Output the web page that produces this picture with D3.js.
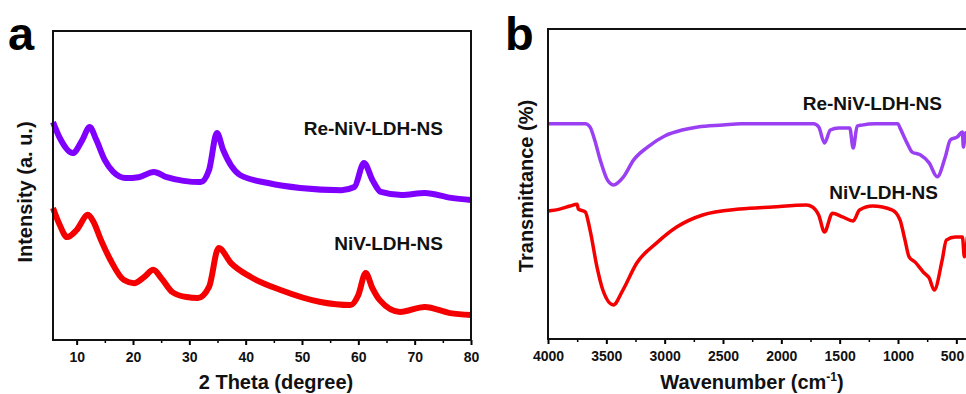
<!DOCTYPE html>
<html>
<head>
<meta charset="utf-8">
<script src="https://cdn.jsdelivr.net/npm/d3@7"></script>
<style>
  body { margin: 0; background: #fff; }
  svg { display: block; font-family: "Liberation Sans", Arial, sans-serif; font-weight: bold; }
</style>
</head>
<body>
<svg></svg>
<script>
"use strict";

// XRD (panel a): 2 theta (degree) and intensity (a. u.)
const xrdReTheta = [5.8, 7, 9.3, 11, 12.3, 13.5, 15, 16.5, 18.7, 21, 23.7, 26, 29, 32, 33.5, 34.9, 36, 39, 44, 49.7, 57, 59.3, 61, 62.5, 64, 67.7, 71.8, 76.5, 80];
const xrdReValue = [70.5, 65.4, 60.5, 64.7, 68.9, 64.7, 58.2, 54.4, 52.4, 52.7, 54.4, 52.7, 51.5, 51.1, 55, 67, 61.5, 53.4, 50.8, 49.2, 48.5, 49.5, 57.3, 51.8, 47.9, 46.9, 47.6, 46, 45.3];
const xrdNiTheta = [5.8, 7, 8.3, 10, 12, 13, 14.3, 16, 18.4, 20.2, 22, 23.6, 25, 27, 29.5, 31.5, 33.5, 35.2, 37.4, 40.9, 46.2, 53.3, 58.6, 60, 61.3, 62.5, 63.8, 67.4, 71.8, 76.3, 80];
const xrdNiValue = [42.7, 37.2, 33.3, 35.6, 40.5, 38.2, 32.4, 25.9, 19.4, 18.4, 20.4, 22.7, 20.1, 15.5, 13.9, 13.6, 17.2, 29.8, 24.9, 20.4, 16.2, 12.3, 11.3, 14.6, 21.7, 16.8, 12.9, 9.1, 10.7, 8.7, 8.1];
const xrdTicks = [10, 20, 30, 40, 50, 60, 70, 80];

// FTIR (panel b): wavenumber (cm-1) and transmittance (%)
const irReWave = [4000, 3800, 3700, 3681, 3640, 3600, 3552, 3491, 3440, 3353, 3267, 3147, 3000, 2850, 2716, 2500, 2345, 2000, 1724, 1680, 1630, 1580, 1509, 1414, 1384, 1350, 1310, 1200, 1000, 983, 922, 879, 810, 733, 664, 595, 552, 491, 448, 440, 420, 405];
const irReValue = [69.4, 69.4, 69.4, 69.4, 68.4, 64.2, 57.7, 51.3, 49.7, 52.3, 57.7, 61.9, 65.5, 67.4, 68.4, 69, 69.4, 69.4, 69.4, 68.4, 63.2, 67.4, 68.1, 68.1, 61.6, 68.7, 69, 69.4, 69.4, 68.1, 63.2, 60.3, 59.4, 56.8, 52.3, 58.7, 64.2, 65.2, 66.8, 61.9, 66.5, 65.8];
const irNiWave = [4000, 3900, 3812, 3750, 3740, 3681, 3640, 3580, 3530, 3440, 3358, 3239, 3068, 2897, 2674, 2357, 2075, 1785, 1733, 1680, 1630, 1562, 1476, 1384, 1330, 1219, 1048, 983, 940, 905, 853, 776, 733, 690, 621, 586, 509, 448, 431, 405];
const irNiValue = [41.3, 41.9, 42.9, 43.5, 41.9, 41, 35.2, 23.2, 15.8, 11, 15.8, 24.5, 31, 36.1, 40, 41.9, 42.6, 43.2, 42.6, 40, 34.5, 40.6, 39.4, 38.1, 41.6, 42.9, 41.6, 38.4, 31.9, 26.5, 24.8, 21.3, 19.7, 15.8, 25.5, 31.9, 32.9, 32.9, 26.5, 32.9];
const irTicks = [4000, 3500, 3000, 2500, 2000, 1500, 1000, 500];

const width = 966;
const height = 394;

const svg = d3.select("svg").attr("width", width).attr("height", height);

const drawPanel = (opts) => {
  const g = svg.append("g");
  const x = d3.scaleLinear().domain(opts.xDomain).range([opts.left, opts.right]);
  const y = d3.scaleLinear().domain([0, 100]).range([opts.bottom, opts.top]);

  // curves
  const line = d3.line()
    .x((d) => x(d[0]))
    .y((d) => y(d[1]))
    .curve(d3.curveMonotoneX);

  opts.series.forEach((s) => {
    g.append("path")
      .datum(d3.zip(s.xs, s.ys))
      .attr("fill", "none")
      .attr("stroke", s.color)
      .attr("stroke-width", s.width)
      .attr("stroke-linejoin", "round")
      .attr("d", line);
  });

  // minor ticks
  g.append("g")
    .attr("transform", `translate(0,${opts.bottom})`)
    .call(d3.axisBottom(x).tickValues(opts.minor).tickSize(3).tickSizeOuter(0).tickFormat(""))
    .call((a) => a.select(".domain").remove())
    .call((a) => a.selectAll("line").attr("stroke-width", 1.5));

  // major ticks
  g.append("g")
    .attr("transform", `translate(0,${opts.bottom})`)
    .call(d3.axisBottom(x).tickValues(opts.ticks).tickSize(5).tickSizeOuter(0).tickPadding(7).tickFormat(d3.format("d")))
    .call((a) => a.select(".domain").remove())
    .call((a) => a.selectAll("line").attr("stroke-width", 2))
    .call((a) => a.selectAll("text")
      .attr("font-size", 14)
      .attr("font-weight", "bold")
      .attr("font-family", "Liberation Sans, Arial, sans-serif")
      .attr("fill", "#111")
      .attr("dx", (d) => (x(d) > width - 14 ? -(x(d) - (width - 14)) : 0)));

  // frame
  g.append("rect")
    .attr("x", opts.left)
    .attr("y", opts.top)
    .attr("width", opts.right - opts.left)
    .attr("height", opts.bottom - opts.top)
    .attr("fill", "none")
    .attr("stroke", "#111")
    .attr("stroke-width", 2);

  // series labels
  opts.labels.forEach((l) => {
    g.append("text")
      .attr("x", l.x)
      .attr("y", l.y)
      .attr("text-anchor", "end")
      .attr("font-size", 19)
      .attr("fill", "#111")
      .text(l.text);
  });

  // axis titles
  const xt = g.append("text")
    .attr("x", opts.xTitleX)
    .attr("y", 389)
    .attr("text-anchor", "middle")
    .attr("font-size", 20)
    .attr("fill", "#111");
  opts.xTitle(xt);

  g.append("text")
    .attr("transform", `translate(${opts.yTitleX},${opts.yTitleY}) rotate(-90)`)
    .attr("text-anchor", "middle")
    .attr("font-size", 20)
    .attr("fill", "#111")
    .text(opts.yTitle);

  // panel letter
  g.append("text")
    .attr("x", opts.letterX)
    .attr("y", 50)
    .attr("font-size", 47)
    .attr("fill", "#000")
    .text(opts.letter);
};

drawPanel({
  xDomain: [5.8, 80],
  left: 53, right: 471, top: 31, bottom: 340,
  ticks: xrdTicks,
  minor: [15, 25, 35, 45, 55, 65, 75],
  series: [
    { xs: xrdReTheta, ys: xrdReValue, color: "#7f00ff", width: 6 },
    { xs: xrdNiTheta, ys: xrdNiValue, color: "#f40000", width: 6 }
  ],
  labels: [
    { text: "Re-NiV-LDH-NS", x: 443, y: 135 },
    { text: "NiV-LDH-NS", x: 443, y: 250 }
  ],
  xTitleX: 276,
  xTitle: (t) => t.text("2 Theta (degree)"),
  yTitle: "Intensity (a. u.)",
  yTitleX: 32, yTitleY: 192,
  letter: "a", letterX: 8
});

drawPanel({
  xDomain: [4000, 400],
  left: 548, right: 968, top: 29, bottom: 339,
  ticks: irTicks,
  minor: [3750, 3250, 2750, 2250, 1750, 1250, 750],
  series: [
    { xs: irReWave, ys: irReValue, color: "#9a40f2", width: 3.5 },
    { xs: irNiWave, ys: irNiValue, color: "#f40000", width: 3.5 }
  ],
  labels: [
    { text: "Re-NiV-LDH-NS", x: 942, y: 110 },
    { text: "NiV-LDH-NS", x: 938, y: 199 }
  ],
  xTitleX: 752,
  xTitle: (t) => {
    t.append("tspan").text("Wavenumber (cm");
    t.append("tspan").attr("font-size", 12).attr("dy", -8).text("-1");
    t.append("tspan").attr("dy", 8).text(")");
  },
  yTitle: "Transmittance (%)",
  yTitleX: 533, yTitleY: 186,
  letter: "b", letterX: 505
});
</script>
</body>
</html>
